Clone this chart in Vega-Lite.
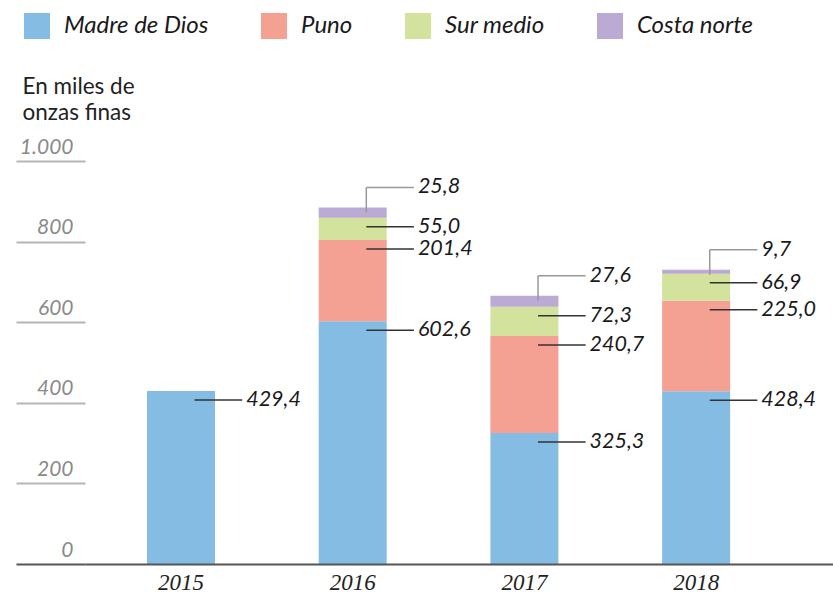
{
  "$schema": "https://vega.github.io/schema/vega-lite/v6.json",
  "width": 748,
  "height": 403,
  "autosize": {"type": "none"},
  "padding": {"left": 85, "top": 161, "right": 0, "bottom": 29},
  "background": "white",
  "config": {
    "view": {"stroke": null},
    "font": "Lato",
    "locale": {"number": {"decimal": ",", "thousands": ".", "grouping": [3], "currency": ["", " €"]}}
  },
  "data": {
    "values": [
      {"year": "2015", "region": "Madre de Dios", "value": 429.4},
      {"year": "2016", "region": "Madre de Dios", "value": 602.6},
      {"year": "2016", "region": "Puno", "value": 201.4},
      {"year": "2016", "region": "Sur medio", "value": 55.0},
      {"year": "2016", "region": "Costa norte", "value": 25.8},
      {"year": "2017", "region": "Madre de Dios", "value": 325.3},
      {"year": "2017", "region": "Puno", "value": 240.7},
      {"year": "2017", "region": "Sur medio", "value": 72.3},
      {"year": "2017", "region": "Costa norte", "value": 27.6},
      {"year": "2018", "region": "Madre de Dios", "value": 428.4},
      {"year": "2018", "region": "Puno", "value": 225.0},
      {"year": "2018", "region": "Sur medio", "value": 66.9},
      {"year": "2018", "region": "Costa norte", "value": 9.7}
    ]
  },
  "transform": [
    {"calculate": "indexof(['Madre de Dios','Puno','Sur medio','Costa norte'], datum.region)", "as": "rank"},
    {"stack": "value", "groupby": ["year"], "sort": [{"field": "rank", "order": "ascending"}], "as": ["y0", "y1"]}
  ],
  "layer": [
    {
      "mark": {"type": "bar"},
      "encoding": {
        "x": {
          "field": "year",
          "type": "ordinal",
          "scale": {"paddingInner": 0.604, "paddingOuter": 0.48, "align": 0.376},
          "axis": {
            "title": null,
            "domain": true,
            "domainColor": "#555555",
            "domainWidth": 2,
            "ticks": false,
            "labelFont": "Liberation Serif",
            "labelFontStyle": "italic",
            "labelFontSize": 23,
            "labelColor": "#222222",
            "labelPadding": 7,
            "labelAngle": 0,
            "zindex": 1
          }
        },
        "y": {
          "field": "y1",
          "type": "quantitative",
          "scale": {"domain": [0, 1000], "nice": false},
          "axis": {
            "title": ["En miles de", "onzas finas"],
            "titleAngle": 0,
            "titleX": -63,
            "titleY": -68,
            "titleAlign": "left",
            "titleBaseline": "alphabetic",
            "titleFont": "Lato",
            "titleFontSize": 22.5,
            "titleFontWeight": "normal",
            "titleColor": "#222222",
            "titleLineHeight": 26,
            "values": [0, 200, 400, 600, 800, 1000],
            "format": ",.0f",
            "grid": false,
            "domain": false,
            "tickSize": 69,
            "tickWidth": 2,
            "tickColor": {"condition": {"test": "datum.value === 0", "value": "#555555"}, "value": "#b5b5b5"},
            "labelAlign": "right",
            "labelBaseline": "alphabetic",
            "labelPadding": -57,
            "labelOffset": -8,
            "labelFont": "Lato",
            "labelFontStyle": "italic",
            "labelFontSize": 21,
            "labelColor": "#8a8a8a",
            "labelFlush": false,
            "labelOverlap": false,
            "zindex": 1
          }
        },
        "y2": {"field": "y0"},
        "color": {
          "field": "region",
          "type": "nominal",
          "scale": {
            "domain": ["Madre de Dios", "Puno", "Sur medio", "Costa norte"],
            "range": ["#85bce4", "#f4a194", "#d3e29d", "#baaad4"]
          },
          "legend": {
            "orient": "none",
            "legendX": -61,
            "legendY": -148,
            "direction": "horizontal",
            "title": null,
            "symbolType": "square",
            "symbolSize": 676,
            "symbolStrokeWidth": 0,
            "symbolOpacity": 1,
            "labelFont": "Lato",
            "labelFontStyle": "italic",
            "labelFontSize": 24,
            "labelColor": "#1a1a1a",
            "labelOffset": 14,
            "columnPadding": 52,
            "padding": 0
          }
        }
      }
    },
    {
      "transform": [{"filter": "datum.region !== 'Costa norte'"}],
      "mark": {"type": "rule", "color": "#333333", "strokeWidth": 1.5, "yOffset": 9},
      "encoding": {
        "x": {"field": "year", "type": "ordinal", "bandPosition": 0.7},
        "x2": {"field": "year", "bandPosition": 1.4},
        "y": {"field": "y1", "type": "quantitative"}
      }
    },
    {
      "transform": [{"filter": "datum.region !== 'Costa norte'"}],
      "mark": {"type": "text", "align": "left", "baseline": "middle", "dx": 4, "dy": 9, "font": "Lato", "fontStyle": "italic", "fontSize": 21.5, "color": "#1a1a1a"},
      "encoding": {
        "x": {"field": "year", "type": "ordinal", "bandPosition": 1.4},
        "y": {"field": "y1", "type": "quantitative"},
        "text": {"field": "value", "type": "quantitative", "format": ".1f"}
      }
    },
    {
      "transform": [{"filter": "datum.region === 'Costa norte'"}],
      "mark": {"type": "rule", "color": "#999999", "strokeWidth": 1.5, "yOffset": 5, "y2Offset": -20},
      "encoding": {
        "x": {"field": "year", "type": "ordinal", "bandPosition": 0.7},
        "y": {"field": "y1", "type": "quantitative"},
        "y2": {"field": "y1"}
      }
    },
    {
      "transform": [{"filter": "datum.region === 'Costa norte'"}],
      "mark": {"type": "rule", "color": "#999999", "strokeWidth": 1.5, "yOffset": -20},
      "encoding": {
        "x": {"field": "year", "type": "ordinal", "bandPosition": 0.7},
        "x2": {"field": "year", "bandPosition": 1.4},
        "y": {"field": "y1", "type": "quantitative"}
      }
    },
    {
      "transform": [{"filter": "datum.region === 'Costa norte'"}],
      "mark": {"type": "text", "align": "left", "baseline": "middle", "dx": 4, "dy": -20, "font": "Lato", "fontStyle": "italic", "fontSize": 21.5, "color": "#1a1a1a"},
      "encoding": {
        "x": {"field": "year", "type": "ordinal", "bandPosition": 1.4},
        "y": {"field": "y1", "type": "quantitative"},
        "text": {"field": "value", "type": "quantitative", "format": ".1f"}
      }
    }
  ]
}
